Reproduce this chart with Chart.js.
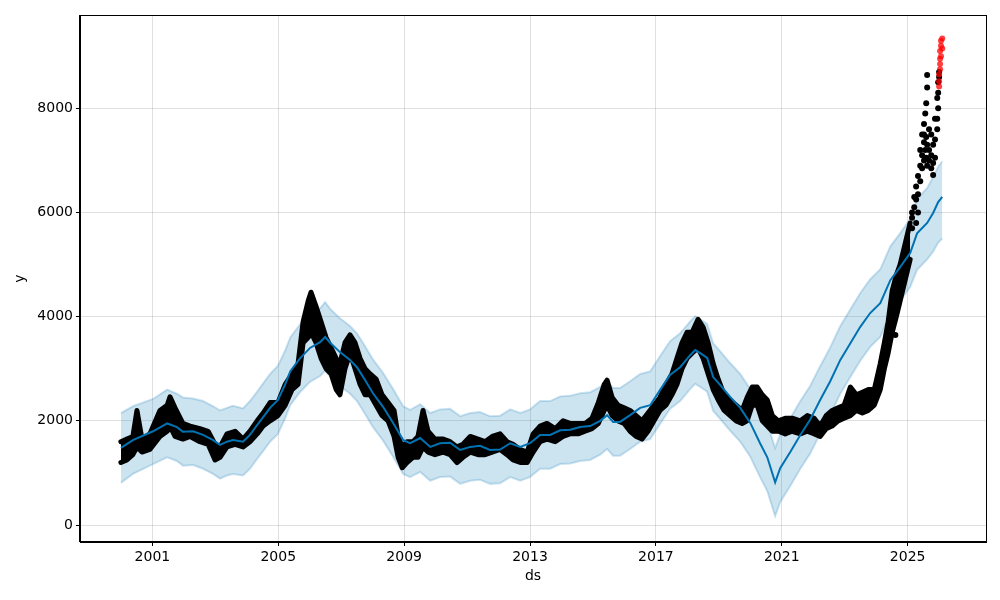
<!DOCTYPE html>
<html>
<head>
<meta charset="utf-8">
<script src="https://cdn.jsdelivr.net/npm/chart.js@4.4.1/dist/chart.umd.min.js"></script>
<style>
  html, body { margin: 0; padding: 0; background: #fff; }
  canvas { display: block; }
</style>
</head>
<body>
<canvas id="myChart" width="1000" height="600"></canvas>
<script>
// tick labels
const xTicks = [2001, 2005, 2009, 2013, 2017, 2021, 2025];
const yTicks = [0, 2000, 4000, 6000, 8000];

// forecast (yhat + uncertainty band)
const fcYears = [
  2000.00, 2000.38, 2001.02, 2001.47, 2001.78, 2001.97, 2002.29, 2002.61, 2002.93, 2003.15,
  2003.37, 2003.56, 2003.88, 2004.10, 2004.33, 2004.52, 2004.74, 2004.99, 2005.22, 2005.38,
  2005.69, 2006.01, 2006.33, 2006.49, 2006.65, 2006.96, 2007.28, 2007.50, 2007.70, 2008.01,
  2008.33, 2008.65, 2008.97, 2009.19, 2009.51, 2009.83, 2010.14, 2010.46, 2010.78, 2011.10,
  2011.41, 2011.73, 2012.05, 2012.37, 2012.69, 2013.00, 2013.32, 2013.64, 2013.96, 2014.28,
  2014.59, 2014.91, 2015.23, 2015.45, 2015.64, 2015.86, 2016.18, 2016.50, 2016.82, 2017.13,
  2017.45, 2017.77, 2018.09, 2018.25, 2018.41, 2018.63, 2018.82, 2019.04, 2019.36, 2019.68,
  2020.00, 2020.31, 2020.54, 2020.79, 2020.95, 2021.27, 2021.59, 2021.90, 2022.22, 2022.54,
  2022.86, 2023.18, 2023.49, 2023.81, 2024.13, 2024.45, 2024.76, 2025.08, 2025.30, 2025.62,
  2025.81, 2025.97, 2026.10
];
const fcYhat = [
  1480, 1630, 1800, 1950, 1880, 1790, 1800, 1730, 1630, 1540,
  1600, 1630, 1600, 1730, 1920, 2070, 2250, 2400, 2700, 2950,
  3200, 3400, 3510, 3610, 3500, 3320, 3170, 3030, 2840, 2530,
  2270, 1960, 1630, 1570, 1670, 1500, 1570, 1580, 1440, 1500,
  1520, 1440, 1450, 1570, 1500, 1570, 1730, 1730, 1820, 1830,
  1880, 1900, 2000, 2110, 1980, 1980, 2110, 2250, 2300, 2590,
  2880, 3030, 3260, 3360, 3300, 3210, 2840, 2690, 2460, 2250,
  1960, 1570, 1300, 820, 1090, 1400, 1730, 2020, 2400, 2760,
  3170, 3490, 3800, 4070, 4260, 4700, 4950, 5220, 5600, 5800,
  5990, 6200, 6300
];
const fcUpper = [
  2150, 2280, 2420, 2600, 2520, 2450, 2430, 2380, 2280, 2200,
  2250, 2290, 2240, 2380, 2560, 2720, 2900, 3060, 3350, 3600,
  3850, 4050, 4160, 4280, 4150, 3970, 3820, 3680, 3490, 3180,
  2920, 2610, 2280, 2210, 2320, 2150, 2220, 2230, 2090, 2150,
  2170, 2090, 2100, 2220, 2150, 2220, 2380, 2380, 2470, 2480,
  2530, 2550, 2650, 2760, 2630, 2630, 2760, 2900, 2950, 3240,
  3530, 3680, 3910, 4010, 3950, 3860, 3490, 3340, 3110, 2900,
  2610, 2220, 1950, 1480, 1740, 2050, 2380, 2670, 3050, 3410,
  3820, 4140, 4450, 4720, 4910, 5350, 5600, 5880, 6260, 6470,
  6680, 6880, 6980
];
const fcLower = [
  810, 980, 1170, 1300, 1230, 1140, 1150, 1080, 980, 890,
  950, 980, 950, 1080, 1270, 1420, 1600, 1750, 2050, 2300,
  2550, 2750, 2860, 2960, 2850, 2670, 2520, 2380, 2190, 1880,
  1620, 1310, 980, 920, 1020, 850, 920, 930, 790, 850,
  870, 790, 800, 920, 850, 920, 1080, 1080, 1170, 1180,
  1230, 1250, 1350, 1460, 1330, 1330, 1460, 1600, 1650, 1940,
  2230, 2380, 2610, 2710, 2650, 2560, 2190, 2040, 1810, 1600,
  1310, 920, 650, 170, 440, 750, 1080, 1370, 1750, 2110,
  2520, 2840, 3150, 3420, 3610, 4050, 4300, 4570, 4900, 5100,
  5250, 5420, 5500
];

// observed history: low / high of the dense daily points
const obsYears = [
  2000.00, 2000.19, 2000.38, 2000.51, 2000.67, 2000.92, 2001.24, 2001.47, 2001.56, 2001.72,
  2001.97, 2002.20, 2002.51, 2002.77, 2002.99, 2003.15, 2003.37, 2003.63, 2003.88, 2004.10,
  2004.33, 2004.52, 2004.74, 2004.99, 2005.22, 2005.44, 2005.63, 2005.79, 2005.95, 2006.04,
  2006.20, 2006.36, 2006.52, 2006.68, 2006.84, 2006.96, 2007.12, 2007.28, 2007.44, 2007.60,
  2007.76, 2007.92, 2008.11, 2008.30, 2008.49, 2008.68, 2008.81, 2008.94, 2009.09, 2009.28,
  2009.44, 2009.60, 2009.76, 2009.98, 2010.24, 2010.46, 2010.68, 2010.87, 2011.10, 2011.35,
  2011.57, 2011.80, 2012.05, 2012.27, 2012.46, 2012.69, 2012.91, 2013.10, 2013.32, 2013.54,
  2013.80, 2014.05, 2014.27, 2014.53, 2014.75, 2014.97, 2015.17, 2015.36, 2015.45, 2015.61,
  2015.80, 2015.99, 2016.18, 2016.37, 2016.56, 2016.75, 2016.94, 2017.13, 2017.32, 2017.51,
  2017.67, 2017.83, 2017.99, 2018.15, 2018.34, 2018.50, 2018.66, 2018.82, 2018.98, 2019.17,
  2019.36, 2019.55, 2019.74, 2019.90, 2020.06, 2020.22, 2020.38, 2020.54, 2020.70, 2020.89,
  2021.11, 2021.33, 2021.59, 2021.81, 2022.03, 2022.22, 2022.41, 2022.60, 2022.79, 2022.98,
  2023.18, 2023.37, 2023.56, 2023.75, 2023.94, 2024.13, 2024.26, 2024.38, 2024.51, 2024.64,
  2024.76, 2024.92, 2025.08
];
const obsLow = [
  1200, 1250, 1350, 1500, 1400, 1450, 1700, 1800, 1900, 1700,
  1650, 1700, 1600, 1550, 1250, 1300, 1500, 1550, 1500, 1600,
  1750, 1900, 2000, 2100, 2300, 2600, 2700, 3500, 3600, 3700,
  3500, 3200, 3000, 2900, 2600, 2500, 3000, 3300, 3000, 2700,
  2500, 2500, 2300, 2100, 2000, 1700, 1300, 1100, 1200, 1300,
  1300, 1500, 1400, 1350, 1400, 1350, 1200, 1300, 1400, 1350,
  1350, 1400, 1450, 1350, 1250, 1200, 1200, 1400, 1600, 1650,
  1600, 1700, 1750, 1750, 1800, 1850, 1950, 2200, 2300, 2100,
  2000, 1950, 1800, 1700, 1650, 1800, 2000, 2200, 2300, 2500,
  2700, 3000, 3200, 3300, 3400, 3200, 2900, 2600, 2400, 2200,
  2100, 2000, 1950, 2000, 2300, 2300, 2000, 1900, 1800, 1800,
  1750, 1800, 1750, 1800, 1750, 1700, 1850, 1900, 2000, 2050,
  2100, 2200, 2150, 2200, 2300, 2600, 3000, 3300, 3700, 4000,
  4300, 4700, 5100
];
const obsHigh = [
  1600, 1650, 1700, 2200, 1650, 1750, 2200, 2300, 2460, 2250,
  1950, 1900, 1850, 1800, 1550, 1500, 1750, 1800, 1650, 1800,
  2000, 2150, 2350, 2350, 2700, 2900, 3100, 3900, 4300, 4470,
  4200, 3900, 3600, 3400, 3200, 3100, 3500, 3650, 3500, 3200,
  3000, 2900, 2800, 2500, 2350, 2200, 1700, 1500, 1600, 1600,
  1700, 2200, 1800, 1650, 1650, 1600, 1500, 1550, 1700, 1650,
  1600, 1700, 1750, 1600, 1550, 1450, 1400, 1750, 1900, 1950,
  1850, 2000, 1950, 1950, 1950, 2050, 2350, 2700, 2780, 2450,
  2300, 2250, 2200, 2100, 2000, 2150, 2300, 2450, 2700, 2900,
  3200, 3500, 3700, 3700, 3950, 3800, 3500, 3100, 2800, 2500,
  2400, 2300, 2200, 2450, 2650, 2650, 2500, 2400, 2100, 2000,
  2050, 2050, 2000, 2100, 2050, 1900, 2100, 2200, 2250, 2300,
  2650, 2500, 2550, 2600, 2600, 3100, 3500, 3900, 4500, 4800,
  5000, 5400, 5800
];

// sparse observed points at the end of the history
const lateYears = [
  2024.61, 2025.14, 2025.14, 2025.14, 2025.21, 2025.21, 2025.27, 2025.27, 2025.27, 2025.33,
  2025.33, 2025.33, 2025.40, 2025.40, 2025.40, 2025.46, 2025.46, 2025.46, 2025.52, 2025.52,
  2025.52, 2025.52, 2025.56, 2025.56, 2025.59, 2025.59, 2025.59, 2025.62, 2025.62, 2025.62,
  2025.62, 2025.68, 2025.68, 2025.68, 2025.75, 2025.75, 2025.75, 2025.81, 2025.81, 2025.81,
  2025.87, 2025.87, 2025.87, 2025.94, 2025.94, 2025.94, 2025.97, 2025.97, 2025.97, 2026.00,
  2026.00
];
const lateValues = [
  3650, 5700, 6000, 5900, 6300, 6100, 6500, 6250, 5800, 6700,
  6350, 6000, 7200, 6900, 6600, 7500, 7100, 6850, 7700, 7350,
  7000, 7500, 7900, 7200, 8100, 7450, 7050, 8400, 8640, 7300,
  6900, 7600, 7200, 7000, 7500, 7100, 6850, 7300, 6950, 6720,
  7800, 7400, 7050, 8200, 7800, 7600, 8500, 8300, 8000, 8700,
  8600
];

// held-out points (red)
const redYears = [2026.00, 2026.00, 2026.00, 2026.03, 2026.03, 2026.03, 2026.03, 2026.06, 2026.06, 2026.06, 2026.10, 2026.10];
const redValues = [8420, 8520, 8650, 8750, 8850, 8950, 9100, 9000, 9200, 9300, 9150, 9340];

const pts = (xs, ys) => xs.map((x, i) => ({ x: x, y: ys[i] }));

const BLUE = '#0072B2';
const BAND = 'rgba(0,114,178,0.2)';
const FONT = { family: 'DejaVu Sans', size: 14 };

const frame = {
  id: 'frame',
  afterDatasetsDraw(chart) {
    const a = chart.chartArea;
    const ctx = chart.ctx;
    ctx.save();
    ctx.strokeStyle = '#000';
    ctx.lineWidth = 1;
    ctx.strokeRect(Math.round(a.left) - 0.5, Math.round(a.top) + 0.5,
      Math.round(a.right - a.left) + 1, Math.round(a.bottom - a.top) - 1);
    ctx.restore();
  }
};

const ctx = document.getElementById('myChart').getContext('2d');

// order: higher number is drawn first (underneath)
const chart = new Chart(ctx, {
  type: 'line',
  data: {
    datasets: [
      {
        // 0 - lower band
        data: pts(fcYears, fcLower),
        borderColor: BAND,
        borderWidth: 2,
        pointRadius: 0,
        fill: false,
        order: 7,
      },
      {
        // 1 - upper band, filled down to the lower band
        data: pts(fcYears, fcUpper),
        borderColor: BAND,
        backgroundColor: BAND,
        borderWidth: 2,
        pointRadius: 0,
        fill: 0,
        order: 6,
      },
      {
        // 2 - observed low edge
        data: pts(obsYears, obsLow),
        borderColor: '#000',
        borderWidth: 5,
        pointRadius: 0,
        borderJoinStyle: 'round',
        borderCapStyle: 'round',
        fill: false,
        order: 5,
      },
      {
        // 3 - observed high edge, filled down to the low edge
        data: pts(obsYears, obsHigh),
        borderColor: '#000',
        backgroundColor: '#000',
        borderWidth: 5,
        pointRadius: 0,
        borderJoinStyle: 'round',
        borderCapStyle: 'round',
        fill: 2,
        order: 4,
      },
      {
        // 4 - sparse late points
        data: pts(lateYears, lateValues),
        showLine: false,
        pointRadius: 3,
        pointBackgroundColor: '#000',
        pointBorderWidth: 0,
        order: 3,
      },
      {
        // 5 - yhat
        data: pts(fcYears, fcYhat),
        borderColor: BLUE,
        borderWidth: 2,
        pointRadius: 0,
        fill: false,
        order: 2,
      },
      {
        // 6 - red points
        data: pts(redYears, redValues),
        showLine: false,
        pointRadius: 3,
        pointBackgroundColor: 'rgba(255,0,0,0.75)',
        pointBorderWidth: 0,
        order: 1,
      }
    ]
  },
  options: {
    responsive: false,
    animation: false,
    devicePixelRatio: 1,
    layout: { padding: { top: 15, right: 14, left: 0, bottom: 0 } },
    plugins: {
      legend: { display: false },
      tooltip: { enabled: false },
    },
    scales: {
      x: {
        type: 'linear',
        min: 1998.70,
        max: 2027.49,
        afterBuildTicks: (axis) => { axis.ticks = xTicks.map(v => ({ value: v })); },
        afterFit: (scale) => { scale.height = 58; },
        ticks: {
          color: '#000',
          font: FONT,
          padding: 3,
          maxRotation: 0,
          callback: (v) => String(v),
        },
        grid: {
          color: 'rgba(0,0,0,0.12)',
          tickColor: '#000',
          tickLength: 4,
        },
        border: { color: '#000', width: 1 },
        title: {
          display: true,
          text: 'ds',
          color: '#000',
          font: FONT,
          padding: { top: 0, bottom: 15 },
        },
      },
      y: {
        type: 'linear',
        min: -326,
        max: 9792,
        afterBuildTicks: (axis) => { axis.ticks = yTicks.map(v => ({ value: v })); },
        afterFit: (scale) => { scale.width = 80; },
        ticks: {
          color: '#000',
          font: FONT,
          padding: 3,
          callback: (v) => String(v),
        },
        grid: {
          color: 'rgba(0,0,0,0.12)',
          tickColor: '#000',
          tickLength: 4,
        },
        border: { color: '#000', width: 1 },
        title: {
          display: true,
          text: 'y',
          color: '#000',
          font: FONT,
          padding: { top: 12, bottom: 0 },
        },
      }
    }
  },
  plugins: [frame]
});
</script>
</body>
</html>
